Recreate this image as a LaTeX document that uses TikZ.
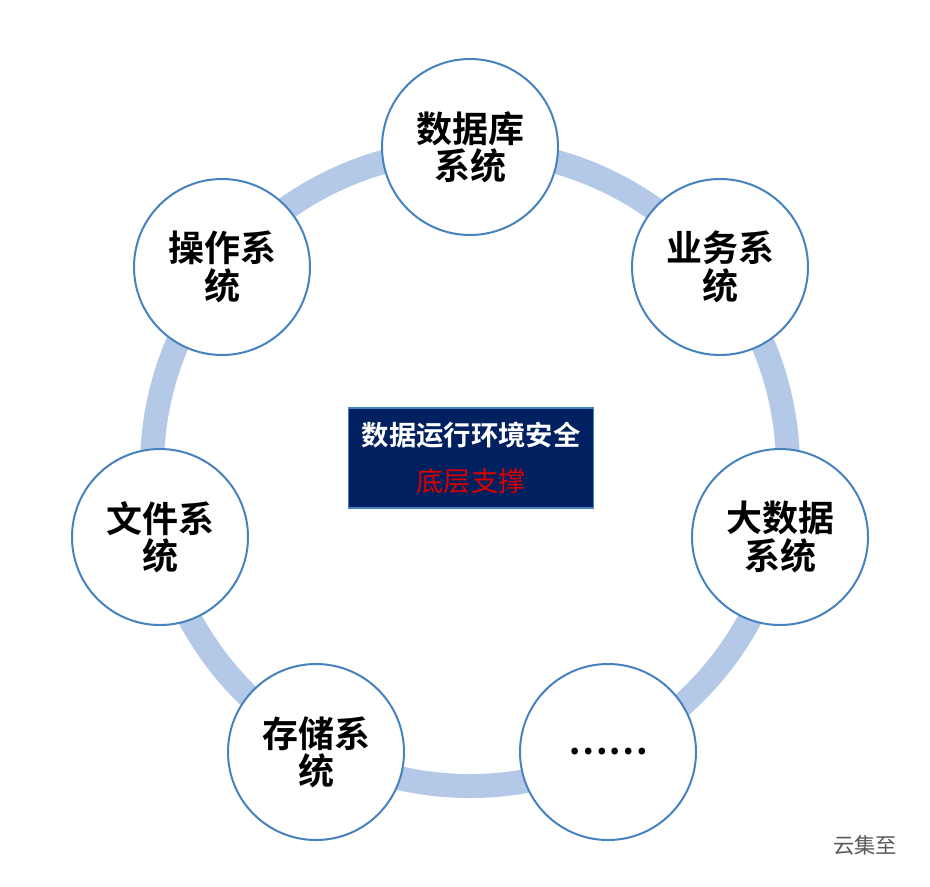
\documentclass[tikz,border=0pt]{standalone}
\usepackage{fontspec}
\setmainfont{Noto Sans CJK SC}[BoldFont={Noto Sans CJK SC Bold}]
\begin{document}
\begin{tikzpicture}[x=0.75pt,y=-0.75pt,
  sys/.style={circle,draw=ringblue,line width=1.5pt,fill=white,minimum size=132pt,inner sep=0pt,align=center,font=\fontsize{27}{28}\selectfont\bfseries,text=black},
  ]
\definecolor{ringblue}{RGB}{70,130,190}
\definecolor{ringfill}{RGB}{180,200,232}
\definecolor{navy}{RGB}{0,32,96}
\useasboundingbox (0,0) rectangle (930,886);
\fill[white] (0,0) rectangle (930,886);
\coordinate (c) at (470,468);
\draw[ringfill,line width=18pt] (c) circle [radius=318];
\node[sys] (db) at (470,147) {数据库\\系统};
\node[sys] (biz) at (720,267) {业务系\\统};
\node[sys] (big) at (780,537) {大数据\\系统};
\node[sys] (etc) at (608,752) {……};
\node[sys] (st) at (316,752) {存储系\\统};
\node[sys] (fs) at (160,537) {文件系\\统};
\node[sys] (os) at (222,267) {操作系\\统};
\node[draw=ringblue,line width=1pt,fill=navy,minimum width=184pt,minimum height=75pt,align=center,inner sep=0pt,font=\fontsize{20.5}{22}\selectfont] (box) at (471,458)
 {\textcolor{white}{\bfseries 数据运行环境安全}\\[12pt] \textcolor{red!85!black}{底层支撑}};
\node[text=gray!70!black,font=\fontsize{16}{18}\selectfont] (wm) at (865,845) {云集至};
\end{tikzpicture}
\end{document}
